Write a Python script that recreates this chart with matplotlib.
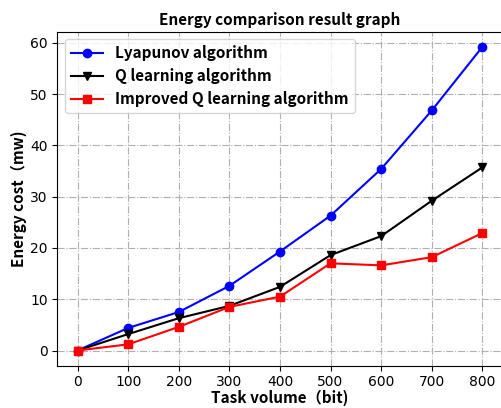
import matplotlib
matplotlib.use("Agg")
import matplotlib.pyplot as plt

task_volume = [0, 100, 200, 300, 400, 500, 600, 700, 800]
lyapunov = [0, 4.4, 7.5, 12.6, 19.3, 26.3, 35.4, 46.8, 59.2]
q_learning = [0, 3.2, 6.3, 8.7, 12.4, 18.6, 22.3, 29.2, 35.7]
improved_q = [0, 1.2, 4.6, 8.5, 10.5, 17.0, 16.6, 18.2, 22.9]

cjk = ['Noto Sans CJK SC', 'DejaVu Sans']

fig = plt.figure(figsize=(5.01, 4.08), dpi=100)
ax = fig.add_axes([0.1144, 0.1037, 0.8888, 0.8186])

ax.plot(task_volume, lyapunov, color='blue', marker='o', markersize=6,
        linewidth=1.5, label="Lyapunov algorithm")
ax.plot(task_volume, q_learning, color='black', marker='v', markersize=6,
        linewidth=1.5, label="Q learning algorithm")
ax.plot(task_volume, improved_q, color='red', marker='s', markersize=6,
        linewidth=1.5, label="Improved Q learning algorithm")

ax.set_xticks(task_volume)
ax.grid(True, linestyle='-.', color='#b0b0b0', linewidth=0.8)

ax.set_title("Energy comparison result graph", fontsize=11, fontweight='bold', family=cjk, pad=5)
ax.set_xlabel("Task volume（bit)", fontsize=11, fontweight='bold', family=cjk, labelpad=0)
ax.set_ylabel("Energy cost（mw)", fontsize=11, fontweight='bold', family=cjk, labelpad=2)

ax.legend(loc='upper left', prop={'family': cjk, 'weight': 'bold', 'size': 11},
          handlelength=2.1, borderpad=0.4, labelspacing=0.45)

fig.savefig("out.png", dpi=100)
